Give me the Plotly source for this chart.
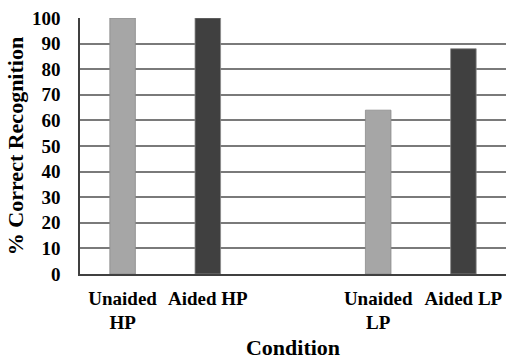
import plotly.graph_objects as go

categories = ["Unaided<br>HP", "Aided HP", "Unaided<br>LP", "Aided LP"]
positions = [0, 1, 3, 4]
values = [100, 100, 64, 88]
colors = ["#a6a6a6", "#404040", "#a6a6a6", "#404040"]
y_ticks = [0, 10, 20, 30, 40, 50, 60, 70, 80, 90, 100]

font_family = "Liberation Serif"

fig = go.Figure()
fig.add_trace(go.Bar(
    x=positions,
    y=values,
    width=0.3,
    marker=dict(color=colors, line=dict(color="#8a8a8a", width=0.8)),
    showlegend=False,
))

fig.update_layout(
    width=506,
    height=360,
    margin=dict(l=80, r=0, t=18, b=86, autoexpand=False),
    paper_bgcolor="white",
    plot_bgcolor="white",
    font=dict(family=font_family, color="black"),
    xaxis=dict(
        range=[-0.5, 4.5],
        tickmode="array",
        tickvals=positions,
        ticktext=categories,
        tickfont=dict(size=19, weight="bold", family=font_family, color="black"),
        ticklabeloverflow="allow",
        showgrid=False,
        showline=True,
        linecolor="#404040",
        linewidth=1.5,
        ticks="",
        ticklabelstandoff=6,
        automargin=False,
        title=dict(text="Condition", font=dict(size=22, weight="bold", family=font_family, color="black"), standoff=12),
        fixedrange=True,
    ),
    yaxis=dict(
        range=[0, 100],
        tickmode="array",
        tickvals=y_ticks,
        tickfont=dict(size=19, weight="bold", family=font_family, color="black"),
        showgrid=True,
        gridcolor="#7a7a7a",
        gridwidth=1.5,
        showline=True,
        linecolor="#404040",
        linewidth=1.5,
        zeroline=False,
        ticks="",
        ticklabelstandoff=14,
        automargin=False,
        title=dict(text="% Correct Recognition", font=dict(size=22, weight="bold", family=font_family, color="black"), standoff=2),
        fixedrange=True,
    ),
)

fig.write_html(
    "out.html",
    config={"displayModeBar": False},
    post_script="document.body.style.margin='0';",
)
